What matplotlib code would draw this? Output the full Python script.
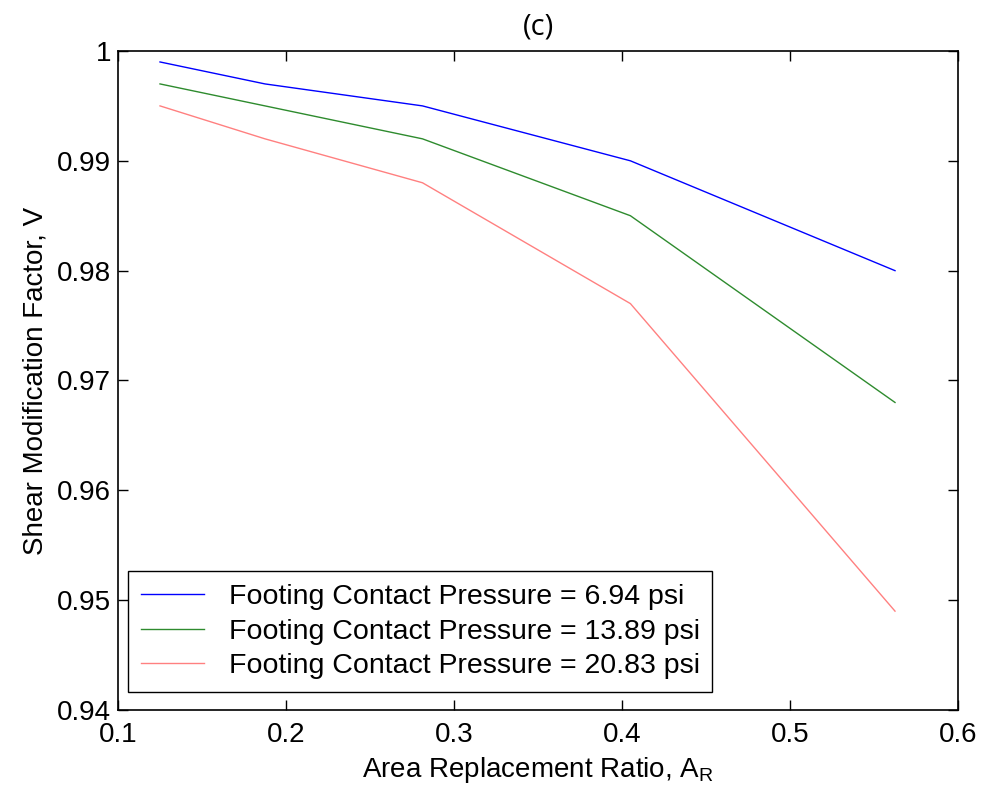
import matplotlib
matplotlib.use('Agg')
from matplotlib import pyplot as plt

# area replacement ratio and shear modification factor for each footing pressure
ar = [0.125, 0.1875, 0.28125, 0.405, 0.5625]
v_694 = [0.999, 0.997, 0.995, 0.990, 0.980]
v_1389 = [0.997, 0.995, 0.992, 0.985, 0.968]
v_2083 = [0.995, 0.992, 0.988, 0.977, 0.949]
labels = ['Footing Contact Pressure = 6.94 psi',
          'Footing Contact Pressure = 13.89 psi',
          'Footing Contact Pressure = 20.83 psi']
xticks = [0.1, 0.2, 0.3, 0.4, 0.5, 0.6]
yticks = [0.94, 0.95, 0.96, 0.97, 0.98, 0.99, 1.0]

plt.rcParams['font.family'] = ['Liberation Sans', 'DejaVu Sans']

fig = plt.figure(figsize=(9.85, 7.99), dpi=100)
ax = fig.add_axes([0.1198, 0.1114, 0.8528, 0.8248])

ax.plot(ar, v_694, color='#0000ff', lw=1.0, label=labels[0])
ax.plot(ar, v_1389, color='#2e8b2e', lw=1.0, label=labels[1])
ax.plot(ar, v_2083, color='#ff8080', lw=1.0, label=labels[2])

ax.set_xlim(0.1, 0.6)
ax.set_ylim(0.94, 1.0)
ax.set_xticks(xticks)
ax.set_xticklabels(['0.1', '0.2', '0.3', '0.4', '0.5', '0.6'])
ax.set_yticks(yticks)
ax.set_yticklabels(['0.94', '0.95', '0.96', '0.97', '0.98', '0.99', '1'])
ax.tick_params(direction='in', length=7, width=1, top=True, right=True,
               labelsize=20)
ax.tick_params(axis='x', pad=9)
ax.tick_params(axis='y', pad=5)
for s in ax.spines.values():
    s.set_linewidth(1.2)

ax.set_xlabel('Area Replacement Ratio, A$_\\mathregular{R}$', fontsize=20, labelpad=5)
ax.set_ylabel('Shear Modification Factor, V', fontsize=20, labelpad=6)
ax.set_title('(c)', fontsize=21, family=['Open Sans', 'DejaVu Sans'], pad=12)

leg = ax.legend(loc='lower left', bbox_to_anchor=(0.012, 0.027), borderaxespad=0,
                fontsize=20.5, fancybox=False, edgecolor='black', framealpha=1,
                handlelength=2.2, handletextpad=0.88, borderpad=0.45, labelspacing=0.3)
leg.get_frame().set_linewidth(1.0)

plt.savefig('out.png', dpi=100)
